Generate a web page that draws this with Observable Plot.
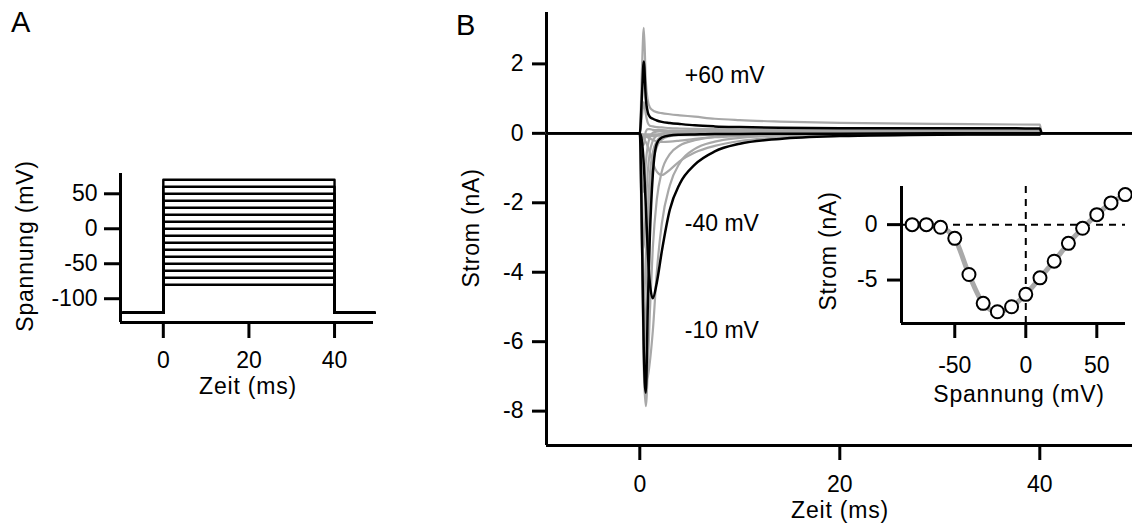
<!DOCTYPE html>
<html><head><meta charset="utf-8">
<script src="https://cdn.jsdelivr.net/npm/d3@7"></script>
<script src="https://cdn.jsdelivr.net/npm/@observablehq/plot@0.6"></script>
<style>
html,body{margin:0;padding:0;background:#fff;}
#root{position:relative;width:1132px;height:528px;overflow:hidden;font-family:"Liberation Sans",Arial,sans-serif;background:#fff;color:#000;}
.panel{position:absolute;}
.lbl{position:absolute;font-size:29px;line-height:1;}
.t{position:absolute;font-size:23px;line-height:1;letter-spacing:0.8px;white-space:nowrap;transform:translate(-50%,-50%);}
.rot{transform:translate(-50%,-50%) rotate(-90deg);}
</style></head><body>
<div id="root">
 <div id="pa" class="panel" style="left:0;top:0;width:400px;height:400px"></div>
 <div id="pb" class="panel" style="left:430px;top:0;width:702px;height:528px"></div>
 <div id="pc" class="panel" style="left:790px;top:170px;width:342px;height:250px"></div>
 <div class="lbl" style="left:11px;top:8px">A</div>
 <div class="lbl" style="left:456px;top:11px">B</div>
 <div class="t rot" style="left:25px;top:246px">Spannung (mV)</div>
 <div class="t" style="left:248px;top:386px">Zeit (ms)</div>
 <div class="t rot" style="left:471px;top:228px">Strom (nA)</div>
 <div class="t" style="left:840px;top:510px">Zeit (ms)</div>
 <div class="t rot" style="left:828px;top:251px">Strom (nA)</div>
 <div class="t" style="left:1019px;top:394px">Spannung (mV)</div>
</div>
<script>
// ---- Panel A: voltage protocol ----
const stepTime = [-9.3, 0, 0, 40, 40, 49.3];
const holdingPotential = -120;
const stepVoltages = [-80, -70, -60, -50, -40, -30, -20, -10, 0, 10, 20, 30, 40, 50, 60, 70];
const voltageTicks = [-100, -50, 0, 50];
const timeTicksA = [0, 20, 40];

// ---- Panel B: current traces ----
const traceTime = [-9.3, 0, 0.2, 0.4, 0.6, 0.8, 1.0, 1.3, 1.7, 2.2, 3, 4, 5.5, 7.5, 10, 14, 20, 30, 40, 40.2, 49.3];
const traceVoltages = [-80, -70, -60, -50, -40, -30, -20, -10, 0, 10, 20, 30, 40, 50, 60, 70];
const traceCurrents = [
  [0,0,-0.02,-0.03,-0.03,-0.03,-0.03,-0.03,-0.03,-0.03,-0.03,-0.03,-0.02,-0.02,-0.02,-0.02,-0.02,-0.02,-0.02,0,0],
  [0,0,-0.05,-0.08,-0.08,-0.08,-0.08,-0.08,-0.07,-0.07,-0.06,-0.05,-0.05,-0.04,-0.04,-0.03,-0.03,-0.02,-0.02,0,0],
  [0,0,-0.05,-0.08,-0.1,-0.12,-0.15,-0.19,-0.23,-0.25,-0.24,-0.21,-0.16,-0.11,-0.08,-0.05,-0.04,-0.03,-0.02,0,0],
  [0,0,-0.08,-0.15,-0.25,-0.38,-0.55,-0.85,-1.1,-1.2,-1.05,-0.8,-0.55,-0.36,-0.22,-0.12,-0.07,-0.04,-0.03,0,0],
  [0,0,-0.2,-0.9,-2.1,-3.4,-4.3,-4.75,-4.3,-3.4,-2.2,-1.45,-0.9,-0.52,-0.3,-0.16,-0.08,-0.04,-0.03,0,0],
  [0,0,-1.2,-5.0,-7.1,-7.0,-6.6,-5.7,-4.0,-2.6,-1.5,-0.85,-0.45,-0.24,-0.13,-0.06,-0.03,-0.02,-0.02,0,0],
  [0,0,-2.0,-6.8,-7.86,-6.8,-5.2,-3.3,-1.9,-1.1,-0.6,-0.35,-0.2,-0.1,-0.06,-0.03,-0.02,-0.01,-0.01,0,0],
  [0,0,-2.6,-6.3,-7.47,-5.0,-3.0,-1.2,-0.3,-0.12,-0.06,-0.04,-0.03,-0.02,-0.02,-0.01,-0.01,0,0,0,0],
  [0,0,-3.0,-6.29,-5.4,-3.4,-2.0,-0.9,-0.4,-0.18,-0.08,-0.04,-0.02,-0.01,0,0,0,0.01,0.01,0,0],
  [0,0,-3.2,-4.8,-3.7,-2.2,-1.2,-0.55,-0.22,-0.09,-0.03,0,0.01,0.02,0.02,0.02,0.02,0.02,0.02,0,0],
  [0,0,-2.6,-3.3,-2.1,-1.1,-0.55,-0.22,-0.07,0,0.02,0.03,0.03,0.03,0.03,0.03,0.03,0.03,0.03,0,0],
  [0,0,-1.4,-1.69,-0.85,-0.35,-0.12,0.02,0.05,0.06,0.06,0.05,0.05,0.05,0.05,0.05,0.05,0.05,0.05,0,0],
  [0,0,-0.25,-0.33,0.05,0.12,0.12,0.1,0.09,0.09,0.08,0.08,0.08,0.07,0.07,0.07,0.07,0.07,0.07,0,0],
  [0,0,0.45,0.9,0.55,0.3,0.22,0.2,0.18,0.17,0.15,0.14,0.13,0.12,0.11,0.1,0.1,0.1,0.1,0,0],
  [0,0,1.0,2.07,1.0,0.6,0.48,0.42,0.37,0.33,0.3,0.27,0.23,0.2,0.18,0.16,0.15,0.15,0.14,0,0],
  [0,0,1.7,3.04,1.5,0.95,0.75,0.66,0.61,0.58,0.55,0.52,0.48,0.42,0.38,0.34,0.3,0.27,0.25,0,0]
];
const highlightedVoltages = [60, -40, -10];
const currentTicks = [-8, -6, -4, -2, 0, 2];
const timeTicksB = [0, 20, 40];
const annotText = ["+60 mV", "-40 mV", "-10 mV"];
const annotTime = [4.5, 4.5, 4.5];
const annotCurrent = [1.66, -2.6, -5.67];

// ---- Inset: I-V curve ----
const ivVoltage = [-80, -70, -60, -50, -40, -30, -20, -10, 0, 10, 20, 30, 40, 50, 60, 70];
const ivCurrent = [0, 0, -0.24, -1.24, -4.5, -7.1, -7.86, -7.41, -6.29, -4.8, -3.3, -1.69, -0.33, 0.9, 1.96, 2.71];
const ivVoltageTicks = [-50, 0, 50];
const ivCurrentTicks = [-5, 0];

const FONT = "Liberation Sans, Arial, sans-serif";
const FS = 23;
const baseStyle = {fontFamily: FONT, fontSize: FS + "px", background: "transparent", overflow: "visible", color: "black"};
const fmt = d => String(d);

// Panel A
const stepData = stepVoltages.flatMap(v => stepTime.map((t, i) => ({
  t, v: (i === 2 || i === 3) ? v : holdingPotential, s: v
})));
const xA = [-10, 49.1], yA = [-134, 79];
const plotA = Plot.plot({
  width: 400, height: 400,
  marginLeft: 120, marginRight: 27, marginTop: 173, marginBottom: 78,
  style: baseStyle,
  x: {domain: xA}, y: {domain: yA},
  marks: [
    Plot.ruleX([xA[0]], {strokeWidth: 3}),
    Plot.ruleY([yA[0]], {strokeWidth: 3}),
    Plot.axisY({ticks: voltageTicks, tickFormat: fmt, tickSize: 16, tickPadding: 7, strokeWidth: 3, fontSize: FS, label: null}),
    Plot.axisX({ticks: timeTicksA, tickFormat: fmt, tickSize: 16, tickPadding: 13, strokeWidth: 3, fontSize: FS, label: null}),
    Plot.line(stepData, {x: "t", y: "v", z: "s", stroke: "black", strokeWidth: 2.4})
  ]
});
document.getElementById("pa").appendChild(plotA);

// Panel B
const traceRows = traceVoltages.flatMap((v, k) => traceTime.map((t, i) => ({t, i: traceCurrents[k][i], v})));
const grayRows = traceRows.filter(d => !highlightedVoltages.includes(d.v));
const blackRows = traceRows.filter(d => highlightedVoltages.includes(d.v));
const xB = [-9.33, 49.27], yB = [-8.99, 3.48];
const plotB = Plot.plot({
  width: 702, height: 528,
  marginLeft: 116, marginRight: 0, marginTop: 12, marginBottom: 83,
  style: baseStyle,
  x: {domain: xB}, y: {domain: yB},
  marks: [
    Plot.ruleX([xB[0]], {strokeWidth: 3}),
    Plot.ruleY([yB[0]], {strokeWidth: 3}),
    Plot.axisY({ticks: currentTicks, tickFormat: fmt, tickSize: 14, tickPadding: 9, strokeWidth: 3, fontSize: FS, label: null}),
    Plot.axisX({ticks: timeTicksB, tickFormat: fmt, tickSize: 15, tickPadding: 15, strokeWidth: 3, fontSize: FS, label: null}),
    Plot.line(grayRows, {x: "t", y: "i", z: "v", stroke: "#a8a8a8", strokeWidth: 2.2, curve: "monotone-x"}),
    Plot.line(blackRows, {x: "t", y: "i", z: "v", stroke: "black", strokeWidth: 2.5, curve: "monotone-x"}),
    Plot.text(annotText, {x: (d, i) => annotTime[i], y: (d, i) => annotCurrent[i], text: d => d, textAnchor: "start", fontSize: FS})
  ]
});
document.getElementById("pb").appendChild(plotB);

// Inset
const ivRows = ivVoltage.map((v, i) => ({v, i: ivCurrent[i]}));
const xC = [-87.5, 70.2], yC = [-8.92, 3.44];
const plotC = Plot.plot({
  width: 342, height: 250,
  marginLeft: 111, marginRight: 7, marginTop: 16, marginBottom: 97,
  style: baseStyle,
  x: {domain: xC}, y: {domain: yC},
  marks: [
    Plot.ruleX([xC[0]], {strokeWidth: 3}),
    Plot.ruleY([yC[0]], {strokeWidth: 3}),
    Plot.ruleY([0], {strokeWidth: 2, strokeDasharray: "7,6"}),
    Plot.ruleX([0], {strokeWidth: 2, strokeDasharray: "7,6"}),
    Plot.axisY({ticks: ivCurrentTicks, tickFormat: fmt, tickSize: 14, tickPadding: 10, strokeWidth: 3, fontSize: FS, label: null}),
    Plot.axisX({ticks: ivVoltageTicks, tickFormat: fmt, tickSize: 15, tickPadding: 18, strokeWidth: 3, fontSize: FS, label: null}),
    Plot.line(ivRows, {x: "v", y: "i", stroke: "#a9a9a9", strokeWidth: 5, curve: "monotone-x"}),
    Plot.dot(ivRows, {x: "v", y: "i", r: 6.5, fill: "white", stroke: "black", strokeWidth: 2})
  ]
});
document.getElementById("pc").appendChild(plotC);
</script>
</body></html>
